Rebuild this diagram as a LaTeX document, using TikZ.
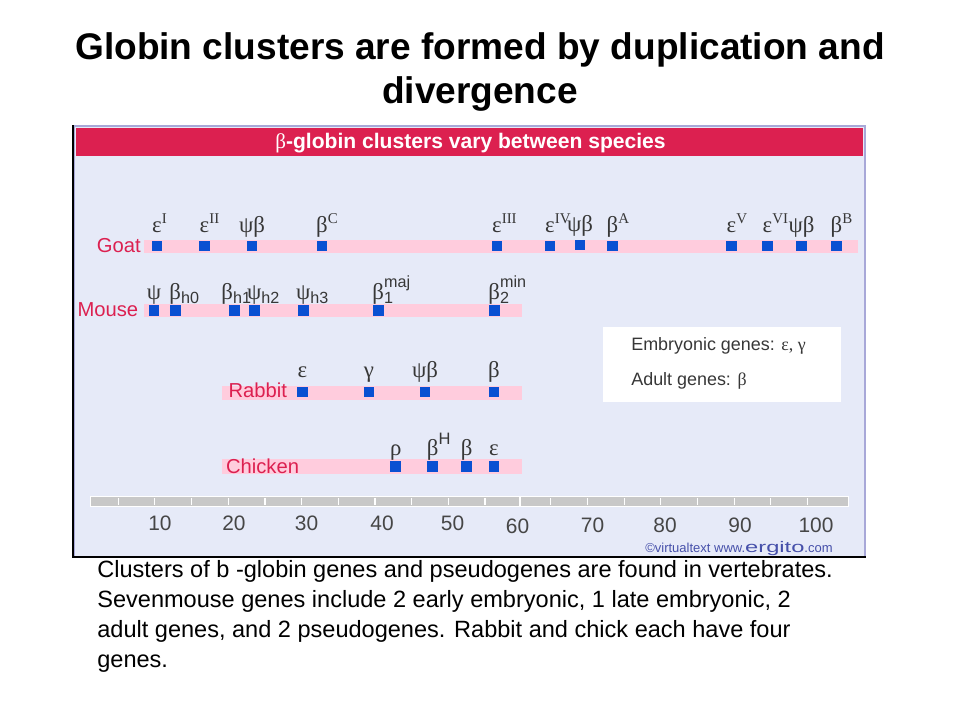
\documentclass[tikz,border=0pt]{standalone}
\usepackage{fontspec}
\setmainfont{Liberation Sans}
\newfontfamily\grk{Liberation Serif}
\definecolor{crimson}{RGB}{220,32,80}
\definecolor{panel}{RGB}{230,234,248}
\definecolor{pinkbar}{RGB}{255,204,221}
\definecolor{geneblue}{RGB}{10,80,210}
\definecolor{edgepurple}{RGB}{168,168,216}
\definecolor{scalegray}{RGB}{200,200,200}
\definecolor{numgray}{RGB}{70,70,70}
\definecolor{txtgray}{RGB}{55,55,55}
\definecolor{markblue}{RGB}{70,80,170}
\newcommand\gup[2]{#1\rlap{\raisebox{5pt}{\fontsize{8.5pt}{9pt}\selectfont#2}}}
\newcommand\gss[3]{#1\rlap{\raisebox{-2.4pt}{\normalfont\fontsize{9.2pt}{10pt}\selectfont#2}}\rlap{\raisebox{6.8pt}{\normalfont\fontsize{9.2pt}{10pt}\selectfont#3}}}
\begin{document}
\begin{tikzpicture}[x=0.02cm,y=-0.02cm,
		gene/.style={fill=geneblue,minimum size=6.2pt,inner sep=0pt},
		glbl/.style={font=\grk\fontsize{13pt}{14pt}\selectfont,text=txtgray,inner sep=0pt,text depth=0pt},
		species/.style={font=\fontsize{11.5pt}{12pt}\selectfont,text=crimson,inner sep=0pt},
		num/.style={font=\fontsize{11.9pt}{12pt}\selectfont,text=numgray,inner sep=0pt,anchor=base},
		legtxt/.style={font=\fontsize{10.2pt}{12pt}\selectfont,text=txtgray,inner sep=0pt,anchor=base west},
		tick/.style={white,line width=0.6pt}]
	\useasboundingbox[fill=white] (0,0) rectangle (960,720);
	\node[font=\bfseries\fontsize{21.1pt}{25pt}\selectfont,inner sep=0pt,anchor=base] (ttl1) at (480,59.3) {Globin clusters are formed by duplication and};
	\node[font=\bfseries\fontsize{21.1pt}{25pt}\selectfont,inner sep=0pt,anchor=base] (ttl2) at (480,103.3) {divergence};
	\fill[panel] (74,126) rectangle (865,556);
	\draw[edgepurple,line width=1.2pt] (74,556)--(74,126)--(865,126)--(865,556);
	\draw[line width=1.3pt] (73,125)--(73,557)--(866,557);
	\fill[crimson] (76,127.5) rectangle (863,155.5);
	\node[text=white,font=\fontsize{12pt}{13pt}\selectfont,inner sep=0pt,anchor=base] (head) at (470.5,148.5) {{\grk β}\textbf{-globin clusters vary between species}};
	% goat
	\fill[pinkbar] (144,240) rectangle (858,252.5);
	\node[species,anchor=east] (goat) at (141,246) {Goat};
	\begin{scope}[label distance=4.2pt]
		\node[gene,label={[glbl]above:\gup{ε}{I}}] (gt1) at (157,246) {};
		\node[gene,label={[glbl]above:\gup{ε}{II}}] (gt2) at (204.5,246) {};
		\node[gene,label={[glbl]above:ψβ}] (gt3) at (252,246) {};
		\node[gene,label={[glbl]above:\gup{β}{C}}] (gt4) at (322,246) {};
		\node[gene,label={[glbl]above:\gup{ε}{III}}] (gt5) at (497,246) {};
		\node[gene,label={[glbl]above:\gup{ε}{IV}}] (gt6) at (550,246) {};
		\node[gene,label={[glbl]above:ψβ}] (gt7) at (580,245) {};
		\node[gene,label={[glbl]above:\gup{β}{A}}] (gt8) at (612.5,246) {};
		\node[gene,label={[glbl]above:\gup{ε}{V}}] (gt9) at (731.5,246) {};
		\node[gene,label={[glbl]above:\gup{ε}{VI}}] (gt10) at (767.5,246) {};
		\node[gene,label={[glbl]above:ψβ}] (gt11) at (801.5,246) {};
		\node[gene,label={[glbl]above:\gup{β}{B}}] (gt12) at (836.5,246) {};
	\end{scope}
	% mouse
	\fill[pinkbar] (144,304) rectangle (522,317);
	\node[species,anchor=east] (mouse) at (138.5,309.5) {Mouse};
	\begin{scope}[label distance=2.8pt]
		\node[gene,label={[glbl]above:ψ}] (ms1) at (154,310.5) {};
		\node[gene,label={[glbl]above:\gss{β}{h0}{}}] (ms2) at (175.3,310.5) {};
		\node[gene,label={[glbl,xshift=-4pt]above:\gss{β}{h1}{}}] (ms3) at (234.3,310.5) {};
		\node[gene,label={[glbl]above:\gss{ψ}{h2}{}}] (ms4) at (254.3,310.5) {};
		\node[gene,label={[glbl]above:\gss{ψ}{h3}{}}] (ms5) at (303.3,310.5) {};
		\node[gene,label={[glbl]above:\gss{β}{1}{maj}}] (ms6) at (378.3,310.5) {};
		\node[gene,label={[glbl]above:\gss{β}{2}{min}}] (ms7) at (494.3,310.5) {};
	\end{scope}
	% rabbit
	\fill[pinkbar] (221.7,385.7) rectangle (521.7,400);
	\node[species,anchor=west] (rabbit) at (228.3,390) {Rabbit};
	\begin{scope}[label distance=4.8pt]
		\node[gene,label={[glbl]above:ε}] (rb1) at (302.3,392) {};
		\node[gene,label={[glbl]above:γ}] (rb2) at (369,392) {};
		\node[gene,label={[glbl]above:ψβ}] (rb3) at (425,392) {};
		\node[gene,label={[glbl]above:β}] (rb4) at (494,392) {};
	\end{scope}
	% chicken
	\fill[pinkbar] (221.7,459) rectangle (521.7,474);
	\node[species,anchor=west] (chicken) at (225.7,466.2) {Chicken};
	\begin{scope}[label distance=2.6pt]
		\node[gene,label={[glbl]above:ρ}] (ck1) at (395.7,466.7) {};
		\node[gene,label={[glbl]above:β\rlap{\raisebox{6.6pt}{\normalfont\fontsize{9.4pt}{10pt}\selectfont H}}}] (ck2) at (432.7,466.7) {};
		\node[gene,label={[glbl]above:β}] (ck3) at (466.7,466.7) {};
		\node[gene,label={[glbl]above:ε}] (ck4) at (494,466.7) {};
	\end{scope}
	% legend
	\node[fill=white,minimum width=4.76cm,minimum height=1.5cm,inner sep=0pt] (leg) at (722,364.5) {};
	\node[legtxt] (emb) at (631,350.5) {Embryonic genes: {\grk ε, γ}};
	\node[legtxt] (adl) at (631,385.5) {Adult genes: {\grk β}};
	% scale
	\fill[scalegray] (90,496.5) rectangle (848,506.5);
	\draw[white,line width=0.5pt] (90,496.5) rectangle (848,506.5);
	\draw[tick] (520,496.5)--(520,506.5);
	\foreach \k in {0,...,10} \draw[tick] ({118.3+36.67*\k},498)--++(0,6.5);
	\foreach \k in {0,...,7} \draw[tick] ({550.7+36.67*\k},498)--++(0,6.5);
	\foreach \v/\x/\y in {10/160/530,20/234/530,30/306.5/530,40/382/530,50/452.5/530,60/517.5/533,70/592.5/532,80/665/532,90/740/532,100/816/532}
		\node[num] (n\v) at (\x,\y) {\v};
	\node[anchor=base east,text=markblue,inner sep=0pt,font=\fontsize{7.4pt}{8pt}\selectfont] (mark) at (833,552) {\textcopyright virtualtext www.\scalebox{1.55}[1]{\fontsize{8.7pt}{9pt}\selectfont ergito}.com};
	% caption
	\node[anchor=north west,align=left,inner sep=0pt,font=\fontsize{13.4pt}{17pt}\selectfont] (capt) at (97,560) {Clusters of b -globin genes and pseudogenes are found in vertebrates.\\Sevenmouse genes include 2 early embryonic, 1 late embryonic, 2\\adult genes, and 2 pseudogenes. Rabbit and chick each have four\\genes.};
\end{tikzpicture}
\end{document}
